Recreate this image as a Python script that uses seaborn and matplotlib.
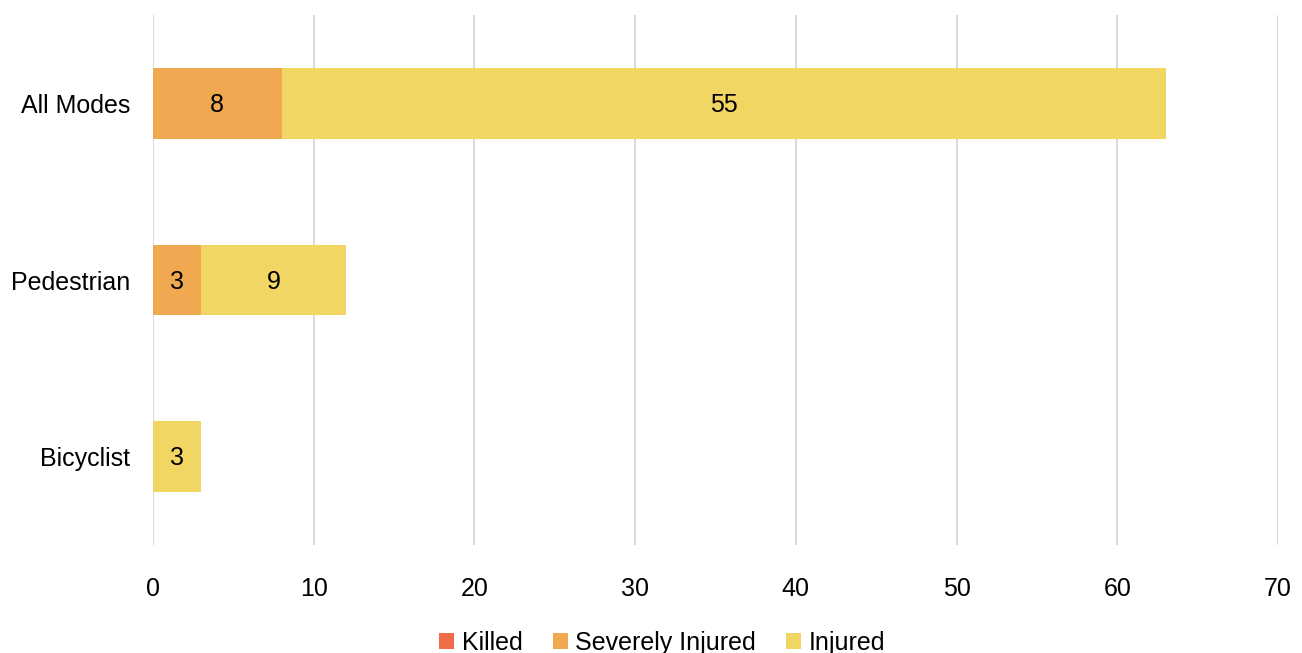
import matplotlib
matplotlib.use("Agg")
import matplotlib.pyplot as plt
import seaborn as sns
import numpy as np
import pandas as pd
from matplotlib.patches import Patch

categories = ["All Modes", "Pedestrian", "Bicyclist"]
killed = [0, 0, 0]
severely_injured = [8, 3, 0]
injured = [55, 9, 3]
series_names = ["Killed", "Severely Injured", "Injured"]
colors = ["#F06B48", "#F0A950", "#F2D664"]
x_ticks = [0, 10, 20, 30, 40, 50, 60, 70]

sns.set_theme(style="white")
plt.rcParams['font.family'] = ['Liberation Sans', 'DejaVu Sans']
plt.rcParams['text.color'] = 'black'
plt.rcParams['xtick.color'] = 'black'
plt.rcParams['ytick.color'] = 'black'
FS = 18

fig = plt.figure(figsize=(13.02, 6.53), dpi=100)
ax = fig.add_axes([153/1302, 1-545/653, 1125/1302, 530/653])

k = np.array(killed)
s = np.array(severely_injured)
i = np.array(injured)
cum = [k, k + s, k + s + i]
segs = [k, s, i]

# draw largest cumulative first
for idx in [2, 1, 0]:
    df = pd.DataFrame({"cat": categories, "val": cum[idx]})
    sns.barplot(data=df, x="val", y="cat", orient="h", color=colors[idx],
                width=0.4, saturation=1, ax=ax, linewidth=0, zorder=3)

for idx in range(3):
    left = cum[idx] - segs[idx]
    for j, cat in enumerate(categories):
        v = segs[idx][j]
        if v > 0:
            ax.text(left[j] + v / 2, j + 0.01, f"{v}", ha="center", va="center",
                    fontsize=FS, color="black", zorder=5)

ax.set_xlim(0, 70)
ax.set_ylim(2.5, -0.5)
ax.set_xticks(x_ticks)
ax.set_xticklabels([str(t) for t in x_ticks], fontsize=FS)
ax.tick_params(axis="y", labelsize=FS, length=0, pad=16.5, labelcolor="black")
ax.tick_params(axis="x", length=0, pad=23, labelcolor="black")
ax.set_xlabel("")
ax.set_ylabel("")
ax.grid(axis="x", color="#d9d9d9", linewidth=1.5, zorder=0)
ax.grid(axis="y", visible=False)
for sp in ax.spines.values():
    sp.set_visible(False)

handles = [Patch(facecolor=c, edgecolor="none") for c in colors]
fig.legend(handles, series_names, loc="center", bbox_to_anchor=(0.5 + 11/1302, 1 - 643/653),
           ncol=3, frameon=False, fontsize=FS, handlelength=0.6, handleheight=0.6,
           handletextpad=0.3, columnspacing=1.2)

fig.savefig("out.png", dpi=100)
